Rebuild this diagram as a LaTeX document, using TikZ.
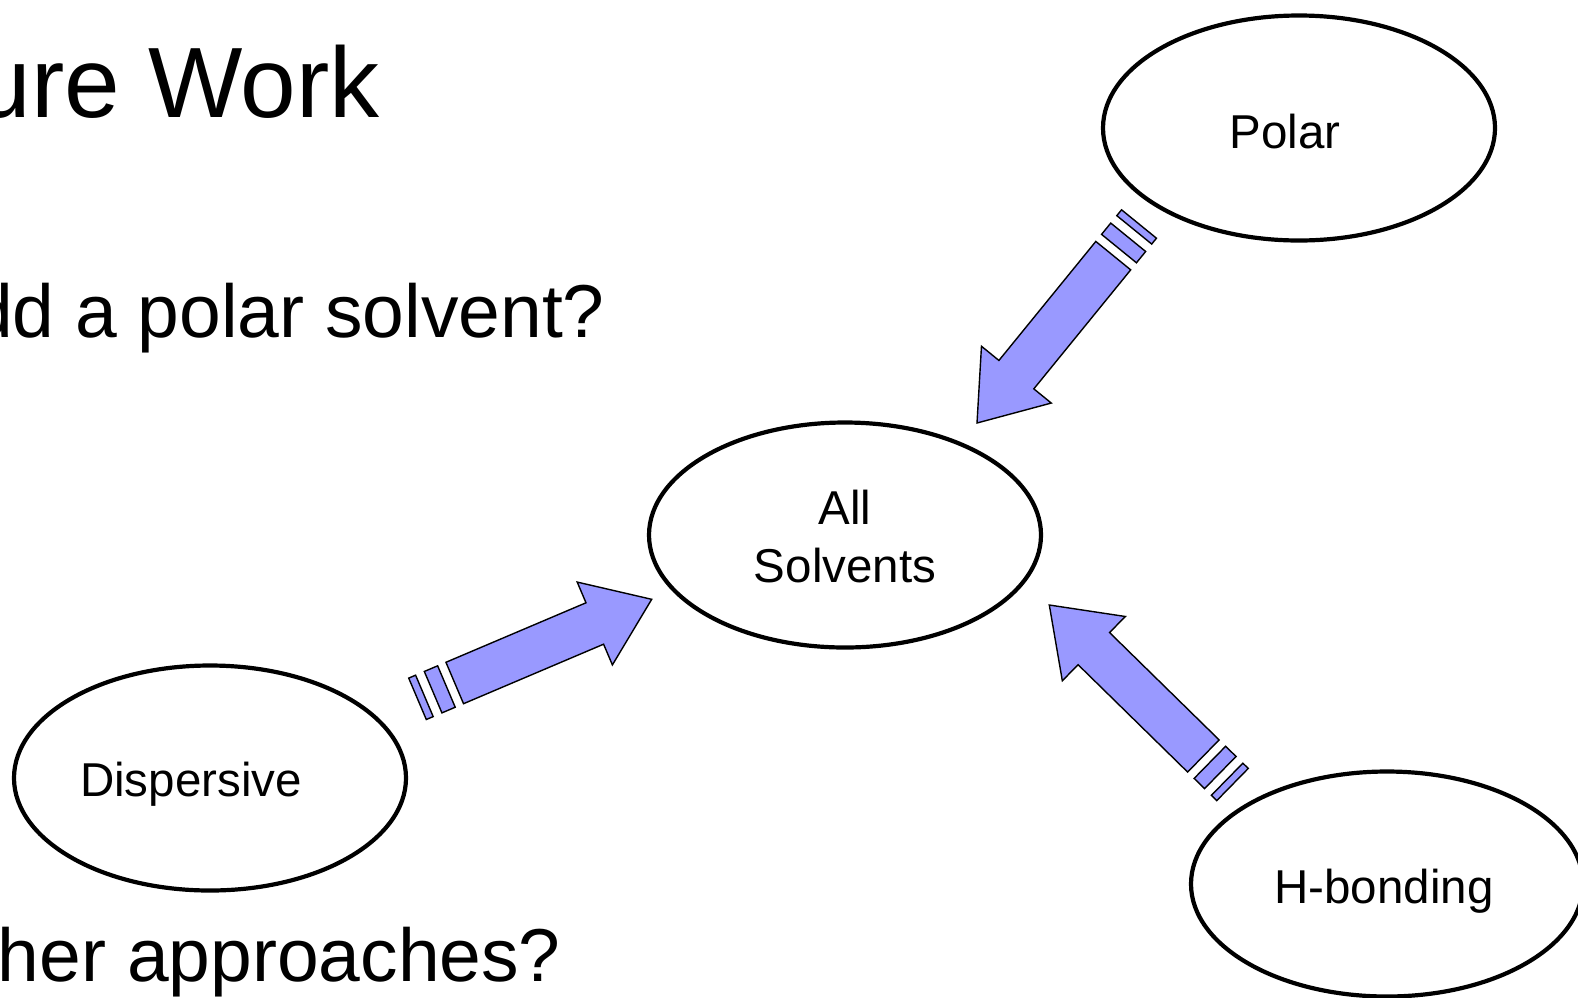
\documentclass[tikz,border=0pt]{standalone}
\usepackage{fontspec}
\setmainfont{Liberation Sans}
\usetikzlibrary{shapes.geometric,calc}
\definecolor{arrowblue}{RGB}{153,153,255}
\newcommand\AP[4]{($(#1)!#3!(#2)!#4!90:(#2)$)}
\newcommand\stripedarrow[2]{%
  \filldraw[sarr] \AP{#1}{#2}{0}{22.5pt} -- \AP{#1}{#2}{0.0294}{22.5pt} -- \AP{#1}{#2}{0.0294}{-22.5pt} -- \AP{#1}{#2}{0}{-22.5pt} -- cycle;
  \filldraw[sarr] \AP{#1}{#2}{0.0667}{22.5pt} -- \AP{#1}{#2}{0.1235}{22.5pt} -- \AP{#1}{#2}{0.1235}{-22.5pt} -- \AP{#1}{#2}{0.0667}{-22.5pt} -- cycle;
  \filldraw[sarr] \AP{#1}{#2}{0.159}{22.5pt} -- \AP{#1}{#2}{0.757}{22.5pt} -- \AP{#1}{#2}{0.757}{45pt} -- (#2) -- \AP{#1}{#2}{0.757}{-45pt} -- \AP{#1}{#2}{0.757}{-22.5pt} -- \AP{#1}{#2}{0.159}{-22.5pt} -- cycle;
}
\begin{document}
\begin{tikzpicture}[x=1pt,y=-1pt,
  ell/.style={draw=black, line width=4.2pt, ellipse, minimum width=392pt, minimum height=225pt, inner sep=0pt},
  lbl/.style={font=\fontsize{47.5}{57}\selectfont, align=center, inner sep=0pt, anchor=base},
  bigtext/.style={font=\fontsize{75}{90}\selectfont, inner sep=0pt, anchor=base east},
  sarr/.style={fill=arrowblue, draw=black, line width=1.4pt, line join=miter}]
\useasboundingbox (0,0) rectangle (1578,997);
% texts
\node[bigtext, font=\fontsize{100}{120}\selectfont] (title) at (380,117) {ure Work};
\node[bigtext] (q1) at (605,337) {dd a polar solvent?};
\node[bigtext] (q2) at (561,981) {her approaches?};
% ellipses
\node[ell] (polar) at (1299,128) {};
\node[ell] (all) at (845,535) {};
\node[ell] (disp) at (210,778) {};
\node[ell] (hb) at (1387,884) {};
\node[lbl] (polarT) at (1285,148) {Polar};
\node[lbl] (allT) at (845,524) {All};
\node[lbl] (allT2) at (845,582) {Solvents};
\node[lbl] (dispT) at (191,796) {Dispersive};
\node[lbl] (hbT) at (1384,903) {H-bonding};
% arrow end points
\coordinate (a1s) at (1139,224);
\coordinate (a1e) at (977,423);
\coordinate (a2s) at (417.5,698.8);
\coordinate (a2e) at (651.7,599.3);
\coordinate (a3s) at (1232.5,784.5);
\coordinate (a3e) at (1049.3,605);
\stripedarrow{a1s}{a1e}
\stripedarrow{a2s}{a2e}
\stripedarrow{a3s}{a3e}
\end{tikzpicture}
\end{document}
